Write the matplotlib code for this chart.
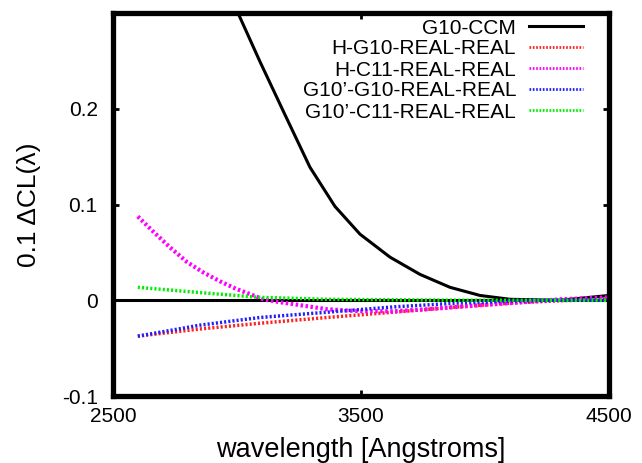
import matplotlib
matplotlib.use("Agg")
import matplotlib.pyplot as plt
from matplotlib.lines import Line2D

plt.rcParams['font.family'] = ['Liberation Sans', 'DejaVu Sans']

# values
ccm_wave = [2900, 3004, 3093, 3193, 3294, 3395, 3496, 3617, 3738, 3859, 3980, 4101, 4302, 4500]
ccm_val = [0.365, 0.300, 0.249, 0.194, 0.139, 0.098, 0.069, 0.045, 0.027, 0.0135, 0.005, 0.001, 0.0, 0.005]

mag_wave = [2600, 2661, 2730, 2798, 2863, 2931, 3000, 3065, 3105, 3173, 3226, 3363, 3496, 3629, 3766, 3887, 4100, 4302, 4500]
hc11 = [0.0875, 0.072, 0.0552, 0.040, 0.0292, 0.0198, 0.0115, 0.0052, 0.001, -0.002, -0.004, -0.0094, -0.0115,
        -0.0115, -0.0094, -0.007, -0.003, 0.001, 0.003]

real_wave = [2600, 2851, 3093, 3363, 3629, 3887, 4100, 4302, 4500]
hg10 = [-0.0375, -0.030, -0.024, -0.018, -0.0125, -0.007, -0.003, -0.0005, 0.001]
gg10 = [-0.0375, -0.026, -0.018, -0.0125, -0.007, -0.003, -0.001, 0.0, 0.0]
gc11 = [0.0135, 0.008, 0.003, 0.001, 0.0005, 0.0, 0.0, 0.0, 0.0]

labels = ["G10-CCM", "H-G10-REAL-REAL", "H-C11-REAL-REAL",
          "G10\u2019-G10-REAL-REAL", "G10\u2019-C11-REAL-REAL"]
colors = ["black", "#ff2020", "#ff00ff", "#2020ff", "#00ee00"]

W, H = 642, 463
fig = plt.figure(figsize=(W / 100, H / 100), dpi=100)
ax = fig.add_axes([113/W, 67/H, 496/W, 383/H])

dots = (0, (0.6, 0.6))
styles = [("-", 2.2), (dots, 2.5), (dots, 3), (dots, 2.5), (dots, 2.5)]
series = [(ccm_wave, ccm_val), (real_wave, hg10), (mag_wave, hc11), (real_wave, gg10), (real_wave, gc11)]

ax.axhline(0, color="black", lw=2.2, zorder=1)
for (xs, ys), c, (ls, lw) in zip(series, colors, styles):
    ax.plot(xs, ys, color=c, lw=lw, ls=ls)

ax.set_xlim(2500, 4500)
ax.set_ylim(-0.1, 0.3)
ax.set_xticks([2500, 3500, 4500])
ax.set_yticks([-0.1, 0, 0.1, 0.2])
ax.set_yticklabels(["-0.1", "0", "0.1", "0.2"])
ax.tick_params(direction="in", length=4, width=2, labelsize=15, top=True, right=True)
ax.tick_params(axis="x", pad=8)
ax.tick_params(axis="y", pad=11)
for sp in ax.spines.values():
    sp.set_linewidth(3.8)

ax.set_xlabel("wavelength [Angstroms]", fontsize=19.5, labelpad=8)
ax.set_ylabel("0.1 \u0394CL(\u03bb)", fontsize=19, labelpad=15)

# gnuplot style key: right aligned text, sample line on the right
for i, (lab, c, (ls, lw)) in enumerate(zip(labels, colors, styles)):
    yc = 26 + 21 * i
    fig.text(516/W, 1 - (yc + 7.5)/H, lab, fontsize=15, ha="right", va="baseline")
    fig.add_artist(Line2D([529/W, 583/W], [1 - yc/H, 1 - yc/H], transform=fig.transFigure,
                          color=c, lw=lw if i == 0 else 2, ls=ls))

fig.savefig("out.png", dpi=100)
